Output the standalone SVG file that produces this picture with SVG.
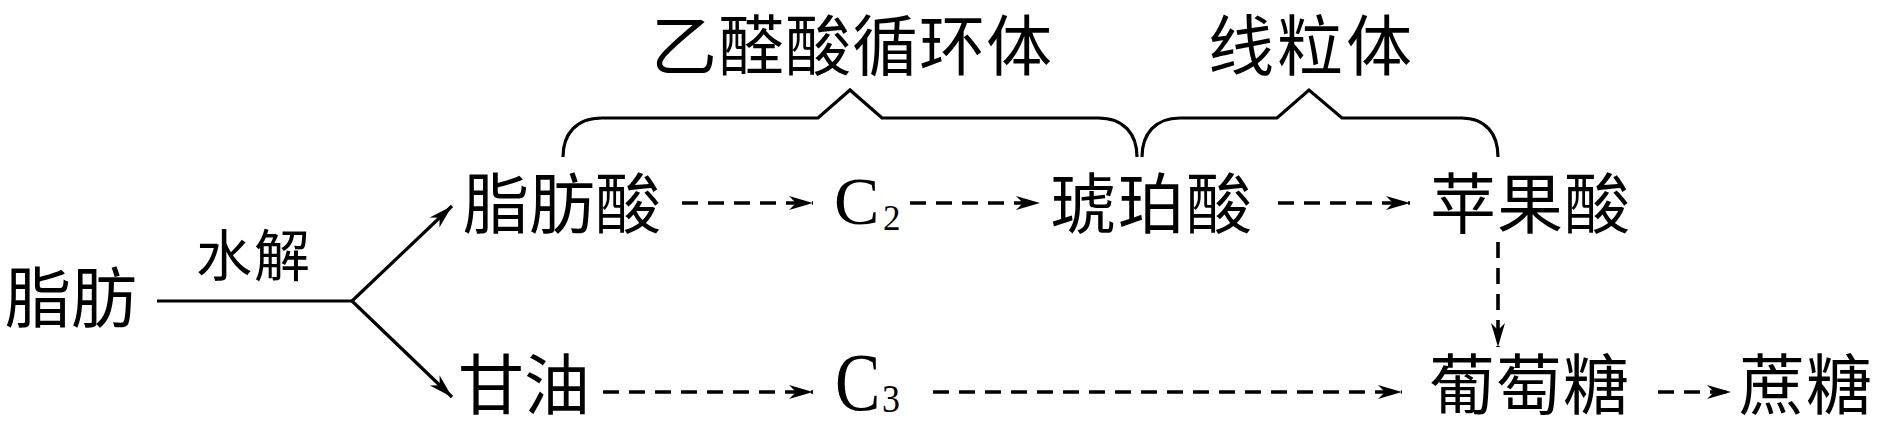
<svg xmlns="http://www.w3.org/2000/svg" width="1878" height="424" viewBox="0 0 1878 424">
<style>
.cjk{font-family:"Noto Sans CJK SC","Noto Sans CJK JP",sans-serif;fill:#000;font-size:66px;}
.lat{font-family:"Liberation Serif","DejaVu Serif",serif;fill:#000;}
.solid{stroke:#000;stroke-width:3.2;fill:none;}
.dash{stroke:#000;stroke-width:3.6;fill:none;stroke-dasharray:16 10;}
.brace{stroke:#000;stroke-width:3.2;fill:none;stroke-linejoin:miter;}
</style>
<defs>
<marker id="ah" markerUnits="userSpaceOnUse" viewBox="-26 -9 28 18" markerWidth="28" markerHeight="18" refX="0" refY="0" orient="auto">
<path d="M0,0 L-24,-7 L-17,0 L-24,7 Z" fill="#000"/>
</marker>
</defs>
<rect x="0" y="0" width="1878" height="424" fill="#fff"/>

<g id="connectors">
<line class="solid" x1="157" y1="301" x2="353" y2="301"/>
<line class="solid" x1="352" y1="301" x2="452" y2="206" marker-end="url(#ah)"/>
<line class="solid" x1="352" y1="301" x2="452" y2="397" marker-end="url(#ah)"/>
<line class="dash" x1="682" y1="203" x2="813" y2="203" marker-end="url(#ah)"/>
<line class="dash" x1="910" y1="203" x2="1040" y2="203" marker-end="url(#ah)"/>
<line class="dash" x1="1278" y1="203" x2="1410" y2="203" marker-end="url(#ah)"/>
<line class="dash" x1="603" y1="392" x2="813" y2="392" marker-end="url(#ah)"/>
<line class="dash" x1="933" y1="392" x2="1402" y2="392" marker-end="url(#ah)"/>
<line class="dash" x1="1658" y1="392" x2="1731" y2="392" marker-end="url(#ah)"/>
<line class="dash" x1="1498" y1="242" x2="1498" y2="347" marker-end="url(#ah)"/>
</g>

<g id="brace-glyoxysome">
<path class="brace" d="M563,157 C563,134 576,118 602,118 L818,118 L850,90 L882,118 L1098,118 C1124,118 1137,134 1137,157"/>
<text class="cjk" x="651" y="70" letter-spacing="1">乙醛酸循环体</text>
</g>
<g id="brace-mitochondria">
<path class="brace" d="M1142,157 C1142,134 1155,118 1180,118 L1277,118 L1309,90 L1342,118 L1461,118 C1486,118 1498,134 1498,157"/>
<text class="cjk" x="1208" y="70" letter-spacing="3">线粒体</text>
</g>

<g id="node-fat"><text class="cjk" x="5" y="322">脂肪</text></g>
<g id="label-hydrolysis"><text class="cjk" x="196" y="276" font-size="56" letter-spacing="2" style="font-size:56px">水解</text></g>
<g id="node-fatty-acid"><text class="cjk" x="463" y="228">脂肪酸</text></g>
<g id="node-c2"><text class="lat" x="834" y="224" font-size="68">C</text><text class="lat" x="883" y="230" font-size="35">2</text></g>
<g id="node-succinate"><text class="cjk" x="1050" y="228" letter-spacing="2">琥珀酸</text></g>
<g id="node-malate"><text class="cjk" x="1430" y="228" letter-spacing="1">苹果酸</text></g>
<g id="node-glycerol"><text class="cjk" x="458" y="409">甘油</text></g>
<g id="node-c3"><text class="lat" font-size="68" transform="translate(835,410) scale(1,1.2)">C</text><text class="lat" font-size="36" transform="translate(882,412) scale(1,1.1)">3</text></g>
<g id="node-glucose"><text class="cjk" x="1429" y="409" letter-spacing="1">葡萄糖</text></g>
<g id="node-sucrose"><text class="cjk" x="1739" y="409" letter-spacing="1">蔗糖</text></g>
</svg>
